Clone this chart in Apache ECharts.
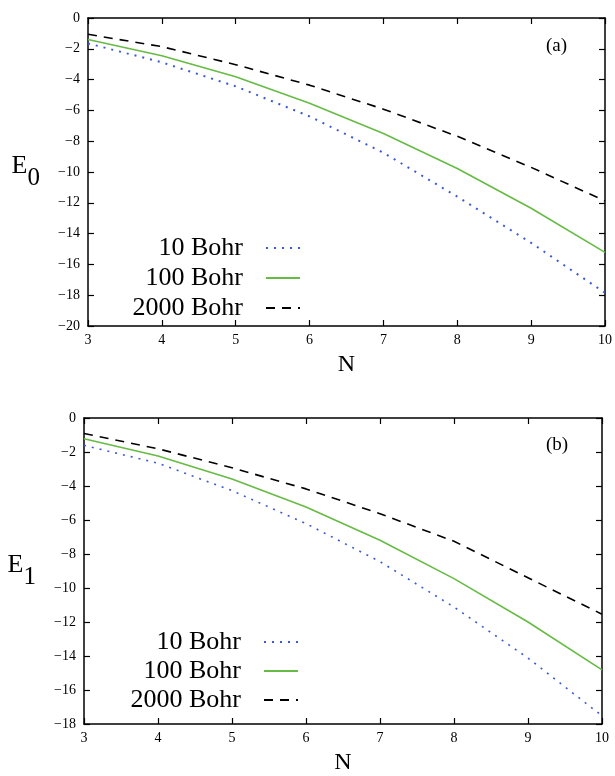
<!DOCTYPE html>
<html><head><meta charset="utf-8">
<script src="https://cdn.jsdelivr.net/npm/echarts@6/dist/echarts.min.js"></script>
<style>html,body{margin:0;padding:0;background:#fff}#c{width:615px;height:776px}</style>
</head><body><div id="c"></div>
<script>
const N = [3, 4, 5, 6, 7, 8, 9, 10];
const seriesNames = ['10 Bohr', '100 Bohr', '2000 Bohr'];
// panel (a): E0
const a10 = [-1.65, -2.88, -4.44, -6.39, -8.75, -11.6, -14.6, -17.85];
const a100 = [-1.4, -2.45, -3.81, -5.53, -7.5, -9.77, -12.35, -15.22];
const a2000 = [-1.06, -1.86, -3.03, -4.36, -5.92, -7.68, -9.7, -11.88];
// panel (b): E1
const b10 = [-1.61, -2.66, -4.27, -6.21, -8.45, -11.12, -14.12, -17.52];
const b100 = [-1.22, -2.23, -3.59, -5.24, -7.19, -9.45, -12.0, -14.82];
const b2000 = [-0.91, -1.81, -2.93, -4.17, -5.63, -7.25, -9.4, -11.54];
const yTicksA = {min: -20, max: 0, step: 2};
const yTicksB = {min: -18, max: 0, step: 2};

const FONT = 'Liberation Serif';
const pts = arr => N.map((n, i) => [n, arr[i]]);
const minus = v => (v < 0 ? '\u2212' + Math.abs(v) : String(v));

function xAxes(grid) {
  const base = {
    type: 'value', gridIndex: grid, min: 3, max: 10, interval: 1,
    axisLine: {show: true, onZero: false, lineStyle: {color: '#000', width: 1.5}},
    axisTick: {show: true, inside: true, length: 6, lineStyle: {color: '#000', width: 1.2}},
    splitLine: {show: false}
  };
  return [
    Object.assign({}, base, {
      position: 'bottom',
      axisLabel: {show: true, fontFamily: FONT, fontSize: 14, color: '#000', margin: 7},
      name: 'N', nameLocation: 'middle', nameGap: 27,
      nameTextStyle: {fontFamily: FONT, fontSize: 24, color: '#000'}
    }),
    Object.assign({}, base, {position: 'top', axisLabel: {show: false}})
  ];
}
function yAxes(grid, t, sub) {
  const base = {
    type: 'value', gridIndex: grid, min: t.min, max: t.max, interval: t.step,
    axisLine: {show: true, onZero: false, lineStyle: {color: '#000', width: 1.5}},
    axisTick: {show: true, inside: true, length: 6, lineStyle: {color: '#000', width: 1.2}},
    splitLine: {show: false}
  };
  return [
    Object.assign({}, base, {
      position: 'left',
      axisLabel: {show: true, fontFamily: FONT, fontSize: 14, color: '#000', margin: 8, formatter: minus},
      name: '{e|E}{s|' + sub + '}', nameLocation: 'middle', nameGap: 48, nameRotate: 0,
      nameTextStyle: {
        rich: {
          e: {fontFamily: FONT, fontSize: 26, color: '#000', padding: [0, 0, 12, 0]},
          s: {fontFamily: FONT, fontSize: 25, color: '#000', padding: [12, 0, 0, 0]}
        }
      }
    }),
    Object.assign({}, base, {position: 'right', axisLabel: {show: false}})
  ];
}

const styles = [
  {color: '#3a5bd0', width: 2, type: [2, 6]},
  {color: '#66bb44', width: 1.6, type: 'solid'},
  {color: '#000', width: 1.6, type: [9, 7]}
];
function mkSeries(arrs, xi, yi, dotW) {
  return arrs.map((arr, k) => ({
    name: seriesNames[k], type: 'line', xAxisIndex: xi, yAxisIndex: yi,
    data: pts(arr), showSymbol: false, symbol: 'none', smooth: false, animation: false,
    lineStyle: Object.assign({}, styles[k], k === 0 ? {width: dotW} : {}),
    itemStyle: {color: styles[k].color}
  }));
}

const legendBase = {
  orient: 'vertical', align: 'right', itemWidth: 34, itemHeight: 14, padding: 0,
  itemStyle: {opacity: 0},
  textStyle: {fontFamily: FONT, fontSize: 26, color: '#000', lineHeight: 26, padding: [0, 18, 0, 0]},
  data: seriesNames, selectedMode: false
};

const option = {
  backgroundColor: '#fff',
  animation: false,
  grid: [
    {left: 88, right: 10, top: 18, height: 308},
    {left: 84, right: 13, top: 418, height: 309}
  ],
  title: [
    {text: '(a)', left: 546, top: 37, padding: 0, textStyle: {fontFamily: FONT, fontSize: 19, fontWeight: 'normal', color: '#000'}},
    {text: '(b)', left: 546, top: 436, padding: 0, textStyle: {fontFamily: FONT, fontSize: 19, fontWeight: 'normal', color: '#000'}}
  ],
  legend: [
    Object.assign({}, legendBase, {right: 314, top: 235, itemGap: 4}),
    Object.assign({}, legendBase, {right: 316, top: 629, itemGap: 3})
  ],
  xAxis: [].concat(xAxes(0), xAxes(1)),
  yAxis: [].concat(yAxes(0, yTicksA, '0'), yAxes(1, yTicksB, '1')),
  series: [].concat(mkSeries([a10, a100, a2000], 0, 0, 2), mkSeries([b10, b100, b2000], 2, 2, 1.6))
};
const chart = echarts.init(document.getElementById('c'), null, {renderer: 'canvas'});
chart.setOption(option);
</script></body></html>
